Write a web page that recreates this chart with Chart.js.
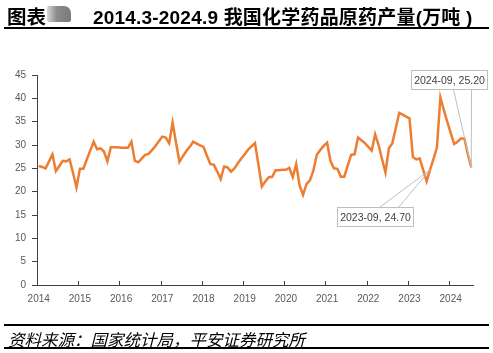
<!DOCTYPE html>
<html>
<head>
<meta charset="utf-8">
<script src="https://cdn.jsdelivr.net/npm/chart.js@4/dist/chart.umd.min.js"></script>
<style>
  html, body { margin: 0; padding: 0; background: #fff; }
  body { width: 493px; height: 353px; position: relative; overflow: hidden;
         font-family: "Liberation Sans", "Noto Sans CJK SC", sans-serif; }
  #wrap { position: absolute; left: 0; top: 0; width: 493px; height: 353px; }
  .title1 { position: absolute; left: 7px; top: 1px; font-size: 19.5px; font-weight: bold; color: #000; }
  .smudge { position: absolute; left: 47px; top: 6px; width: 24px; height: 16px;
            background: linear-gradient(90deg, #d8d8d8, #8c8c8c 40%, #7a7a7a); border-radius: 2px 7px 2px 2px; }
  .title2 { position: absolute; left: 93px; top: 2px; font-size: 19px; font-weight: bold; color: #000; letter-spacing: 0.2px; }
  .rule { position: absolute; left: 4px; width: 485px; height: 2px; background: #000; }
  .source { position: absolute; left: 8px; top: 327px; font-size: 16.5px; font-style: italic; color: #000; }
</style>
</head>
<body>
<div id="wrap"><canvas id="chart" width="493" height="353"></canvas></div>
<div class="title1">图表</div>
<div class="smudge"></div>
<div class="title2">2014.3-2024.9 我国化学药品原药产量(万吨 )</div>
<div class="rule" style="top:27px"></div>
<div class="rule" style="top:324px"></div>
<div class="source">资料来源：国家统计局，平安证券研究所</div>
<div class="rule" style="top:347px"></div>

<script>
// monthly output, 10k tonnes, 2014-03 .. 2024-09
var startYear = 2014, startMonth = 3;
var yearLabels = ['2014', '2015', '2016', '2017', '2018', '2019', '2020', '2021', '2022', '2023', '2024'];
var output = [
  25.5, 25.3, 25.0, 26.5, 28.0, 24.4, 25.5, 26.6, 26.5, 26.9, 24.0, 20.9,
  24.9, 24.9, 26.9, 28.8, 30.7, 29.1, 29.3, 28.6, 26.5, 29.5, 29.5, 29.5,
  29.4, 29.4, 29.4, 30.7, 26.6, 26.3, 27.1, 27.9, 28.1, 28.9, 29.8, 30.8,
  31.8, 31.6, 30.4, 34.8, 30.5, 26.4, 27.6, 28.7, 29.6, 30.7, 30.3, 29.9,
  29.6, 27.7, 25.9, 25.8, 24.3, 22.7, 25.4, 25.2, 24.3, 25.0, 26.1, 27.1,
  28.0, 29.0, 29.7, 30.4, 25.8, 21.1, 22.2, 23.1, 23.2, 24.6, 24.6, 24.7,
  24.7, 25.1, 23.1, 25.9, 21.3, 19.3, 21.6, 22.4, 24.5, 27.9, 28.9, 29.8,
  30.5, 26.5, 25.0, 24.9, 23.2, 23.2, 25.6, 27.9, 28.0, 31.6, 31.0, 30.4,
  29.6, 28.8, 32.3, 30.0, 27.0, 24.1, 29.3, 30.4, 33.6, 36.9, 36.5, 36.1,
  35.7, 27.4, 26.9, 27.1, 24.6, 22.2, 24.7, 27.0, 29.5, 40.2, 37.5, 35.0,
  32.6, 30.2, 30.7, 31.4, 31.4, 28.0, 25.2
];
var calloutMonths = ['2023-09', '2024-09'];

var months = [];
for (var i = 0; i < output.length; i++) {
  var m = startMonth - 1 + i;
  var y = startYear + Math.floor(m / 12);
  var mm = (m % 12) + 1;
  months.push(y + '-' + (mm < 10 ? '0' + mm : mm));
}

// box offsets relative to the point, wedge base on the box edge
var calloutStyle = {
  '2023-09': { dx: -93, dy: 37, w: 76, h: 19, baseY: 'top', b1: 42, b2: 61 },
  '2024-09': { dx: -60, dy: -97, w: 76, h: 19, baseY: 'bottom', b1: 42, b2: 60 }
};

var callouts = {
  id: 'callouts',
  afterDatasetsDraw: function (chart) {
    var ctx = chart.ctx;
    var meta = chart.getDatasetMeta(0);
    ctx.save();
    calloutMonths.forEach(function (label) {
      var idx = months.indexOf(label);
      var p = meta.data[idx];
      var s = calloutStyle[label];
      var bx = Math.round(p.x + s.dx) + 0.5, by = Math.round(p.y + s.dy) + 0.5;
      var edgeY = s.baseY === 'top' ? by : by + s.h;
      ctx.strokeStyle = '#bfbfbf';
      ctx.lineWidth = 1;
      ctx.beginPath();
      ctx.moveTo(bx + s.b1, edgeY);
      ctx.lineTo(p.x, p.y);
      ctx.lineTo(bx + s.b2, edgeY);
      ctx.stroke();
      ctx.fillStyle = '#fff';
      ctx.fillRect(bx, by, s.w, s.h);
      ctx.strokeRect(bx, by, s.w, s.h);
      ctx.fillStyle = '#404040';
      ctx.font = '10.5px "Liberation Sans", sans-serif';
      ctx.textAlign = 'center';
      ctx.textBaseline = 'middle';
      ctx.fillText(label + ', ' + output[idx].toFixed(2), bx + s.w / 2, by + s.h / 2 + 1);
    });
    ctx.restore();
  }
};

// year tick marks on the x axis, pointing up, at category boundaries
var yearTicks = {
  id: 'yearTicks',
  afterDraw: function (chart) {
    var ctx = chart.ctx, xs = chart.scales.x;
    var step = xs.getPixelForValue(1) - xs.getPixelForValue(0);
    ctx.save();
    ctx.strokeStyle = '#404040';
    ctx.lineWidth = 1;
    ctx.beginPath();
    for (var i = 0; i < months.length; i += 12) {
      var x = Math.round(xs.getPixelForValue(i) - step / 2) + 0.5;
      ctx.moveTo(x, xs.top);
      ctx.lineTo(x, xs.top - 4);
    }
    ctx.stroke();
    ctx.restore();
  }
};

new Chart(document.getElementById('chart'), {
  type: 'line',
  data: {
    labels: months,
    datasets: [{
      data: output,
      borderColor: '#ED7D31',
      borderWidth: 2.5,
      pointRadius: 0,
      tension: 0,
      fill: false
    }]
  },
  options: {
    responsive: false,
    animation: false,
    layout: { padding: { left: 0, right: 20, top: 75, bottom: 0 } },
    plugins: { legend: { display: false }, tooltip: { enabled: false } },
    scales: {
      x: {
        type: 'category',
        offset: true,
        afterFit: function (s) { s.height = 68; },
        grid: { display: false, drawTicks: false },
        border: { display: true, color: '#404040', width: 1 },
        ticks: {
          autoSkip: false,
          maxRotation: 0,
          padding: 8,
          color: '#595959',
          font: { family: 'Liberation Sans', size: 10 },
          callback: function (v, i) { return i % 12 === 0 ? yearLabels[i / 12] : null; }
        }
      },
      y: {
        min: 0,
        max: 45,
        afterFit: function (s) { s.width = 37; },
        grid: { drawOnChartArea: false, drawTicks: true, tickLength: 5, color: '#404040' },
        border: { display: true, color: '#404040', width: 1 },
        ticks: {
          stepSize: 5,
          padding: 6,
          color: '#595959',
          font: { family: 'Liberation Sans', size: 10 }
        }
      }
    }
  },
  plugins: [yearTicks, callouts]
});
</script>
</body>
</html>
